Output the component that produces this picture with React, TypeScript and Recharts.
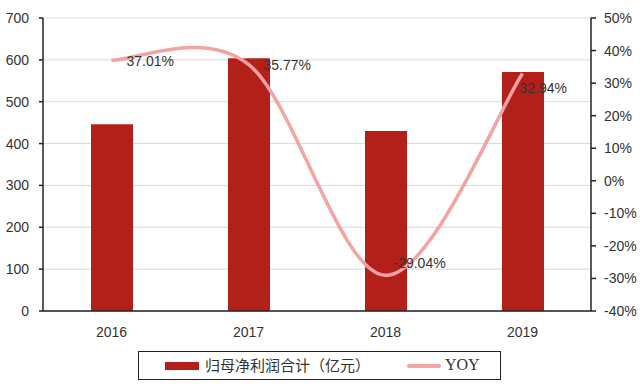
import React from 'react';
import { ComposedChart, Bar, Line, XAxis, YAxis, CartesianGrid, LabelList } from 'recharts';

const years = ['2016', '2017', '2018', '2019'];
const netProfit = [446, 604, 430, 571];
const yoy = [37.01, 35.77, -29.04, 32.94];
const leftTicks = [0, 100, 200, 300, 400, 500, 600, 700];
const rightTicks = [-40, -30, -20, -10, 0, 10, 20, 30, 40, 50];

const data = years.map((y, i) => ({ year: y, profit: netProfit[i], yoy: yoy[i] }));

const FONT = '"Liberation Sans", Arial, sans-serif';
const FS = 14;

// Excel-like smoothed line (Catmull-Rom style bezier)
const excelCurve: any = (context: any) => {
  let pts: number[][] = [];
  return {
    areaStart() {},
    areaEnd() {},
    lineStart() { pts = []; },
    lineEnd() {
      if (!pts.length) return;
      context.moveTo(pts[0][0], pts[0][1]);
      for (let i = 0; i < pts.length - 1; i++) {
        const p0 = pts[Math.max(i - 1, 0)];
        const p1 = pts[i];
        const p2 = pts[i + 1];
        const p3 = pts[Math.min(i + 2, pts.length - 1)];
        context.bezierCurveTo(
          p1[0] + (p2[0] - p0[0]) / 6, p1[1] + (p2[1] - p0[1]) / 6,
          p2[0] - (p3[0] - p1[0]) / 6, p2[1] - (p3[1] - p1[1]) / 6,
          p2[0], p2[1]
        );
      }
    },
    point(x: number, y: number) { pts.push([+x, +y]); },
  };
};

const labelOffsets = [
  { dx: 15, dy: 6 },
  { dx: 15, dy: 6 },
  { dx: 8, dy: -7 },
  { dx: -3, dy: 19 },
];

const YoyLabel = (props: any) => {
  const { x, y, value, index } = props;
  const o = labelOffsets[index] || { dx: 10, dy: 5 };
  return (
    <text x={x + o.dx} y={y + o.dy} fill="#333" fontSize={FS} fontFamily={FONT} textAnchor="start">
      {Number(value).toFixed(2)}%
    </text>
  );
};

export default function App() {
  return (
    <div style={{ position: 'absolute', left: 0, top: 0, width: 640, height: 384, background: '#fff' }}>
      <ComposedChart width={640} height={384} data={data} margin={{ top: 18, right: 0, left: 0, bottom: 43 }}>
        <CartesianGrid yAxisId="left" vertical={false} stroke="#d9d9d9" strokeWidth={1} />
        <XAxis
          dataKey="year"
          height={30}
          tickLine={false}
          axisLine={{ stroke: '#222', strokeWidth: 1.5 }}
          tick={{ fill: '#333', fontSize: FS, fontFamily: FONT }}
          tickMargin={10}
        />
        <YAxis
          yAxisId="left"
          width={43}
          domain={[0, 700]}
          ticks={leftTicks}
          interval={0}
          tickSize={4}
          tickMargin={10}
          axisLine={{ stroke: '#222', strokeWidth: 1.5 }}
          tickLine={{ stroke: '#222', strokeWidth: 1.5 }}
          tick={{ fill: '#333', fontSize: FS, fontFamily: FONT }}
        />
        <YAxis
          yAxisId="right"
          orientation="right"
          width={49}
          domain={[-40, 50]}
          ticks={rightTicks}
          interval={0}
          tickSize={5}
          tickMargin={8}
          tickFormatter={(v: number) => `${v}%`}
          axisLine={{ stroke: '#222', strokeWidth: 1.5 }}
          tickLine={{ stroke: '#222', strokeWidth: 1.5 }}
          tick={{ fill: '#333', fontSize: FS, fontFamily: FONT }}
        />
        <Bar yAxisId="left" dataKey="profit" fill="#B3201A" barSize={42} isAnimationActive={false} />
        <Line
          yAxisId="right"
          dataKey="yoy"
          type={excelCurve}
          stroke="#F3A3A3"
          strokeWidth={3.5}
          dot={false}
          activeDot={false}
          isAnimationActive={false}
        >
          <LabelList dataKey="yoy" content={<YoyLabel />} />
        </Line>
      </ComposedChart>
      <div
        style={{
          position: 'absolute', left: 138, top: 351, width: 363, height: 29,
          border: '1.5px solid #222', boxSizing: 'border-box',
        }}
      >
        <div style={{ position: 'absolute', left: 26, top: 10, width: 34, height: 8, background: '#B3201A' }} />
        <div style={{ position: 'absolute', left: 66, top: 3, fontSize: 15, lineHeight: '20px', color: '#333', fontFamily: '"Noto Sans CJK SC", sans-serif', whiteSpace: 'nowrap' }}>
          归母净利润合计（亿元）
        </div>
        <div style={{ position: 'absolute', left: 268, top: 12, width: 34, height: 4, background: '#F3A3A3', borderRadius: 2 }} />
        <div style={{ position: 'absolute', left: 306, top: 3, fontSize: 16, lineHeight: '20px', color: '#333', fontFamily: '"Liberation Serif", serif' }}>
          YOY
        </div>
      </div>
    </div>
  );
}
